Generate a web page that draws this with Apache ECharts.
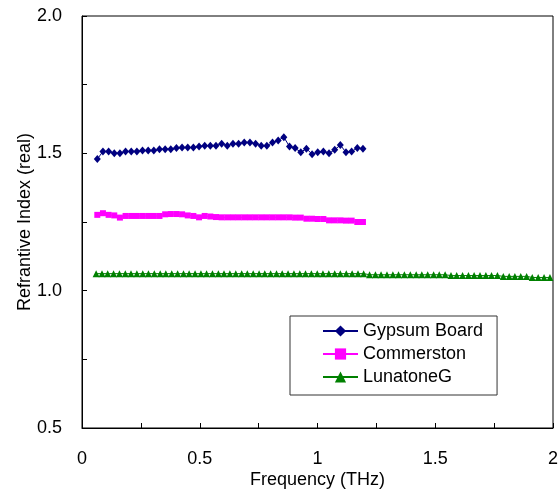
<!DOCTYPE html>
<html>
<head>
<meta charset="utf-8">
<script src="https://cdn.jsdelivr.net/npm/echarts@6/dist/echarts.min.js"></script>
<style>html,body{margin:0;padding:0;background:#fff;}#c{width:558px;height:491px;}</style>
</head>
<body>
<div id="c"></div>
<script>
var freqA = [0.065,0.089,0.113,0.137,0.161,0.185,0.209,0.233,0.257,0.281,0.305,0.329,0.353,0.377,0.401,0.425,0.449,0.473,0.497,0.521,0.545,0.569,0.593,0.617,0.641,0.665,0.689,0.713,0.737,0.761,0.785,0.809,0.833,0.857,0.881,0.905,0.929,0.953,0.977,1.001,1.025,1.049,1.073,1.097,1.121,1.145,1.169,1.193];
var gypsum = [1.479,1.507,1.507,1.500,1.500,1.507,1.507,1.507,1.510,1.510,1.510,1.515,1.515,1.515,1.519,1.521,1.521,1.521,1.525,1.528,1.528,1.528,1.535,1.528,1.535,1.535,1.539,1.539,1.535,1.528,1.528,1.539,1.547,1.559,1.525,1.519,1.504,1.517,1.497,1.504,1.507,1.500,1.513,1.530,1.504,1.507,1.519,1.517];
var commerston = [1.276,1.282,1.276,1.274,1.266,1.272,1.272,1.272,1.272,1.272,1.272,1.272,1.278,1.279,1.279,1.278,1.274,1.272,1.267,1.272,1.270,1.268,1.267,1.267,1.267,1.267,1.267,1.267,1.267,1.267,1.267,1.267,1.267,1.267,1.267,1.266,1.266,1.262,1.262,1.261,1.261,1.256,1.256,1.256,1.255,1.255,1.250,1.250];
var freqG = [0.060,0.085,0.109,0.134,0.159,0.184,0.208,0.233,0.258,0.282,0.307,0.332,0.356,0.381,0.406,0.431,0.455,0.480,0.505,0.529,0.554,0.579,0.603,0.628,0.653,0.678,0.702,0.727,0.752,0.776,0.801,0.826,0.850,0.875,0.900,0.925,0.949,0.974,0.999,1.023,1.048,1.073,1.097,1.122,1.147,1.172,1.196,1.221,1.246,1.270,1.295,1.320,1.344,1.369,1.394,1.419,1.443,1.468,1.493,1.517,1.542,1.567,1.591,1.616,1.641,1.665,1.690,1.715,1.739,1.764,1.789,1.814,1.838,1.863,1.888,1.912,1.937,1.962,1.987];
var lunatone = [1.062,1.062,1.062,1.062,1.062,1.062,1.062,1.062,1.062,1.062,1.062,1.062,1.062,1.062,1.062,1.062,1.062,1.062,1.062,1.062,1.062,1.062,1.062,1.062,1.062,1.062,1.062,1.062,1.062,1.062,1.062,1.062,1.062,1.062,1.062,1.062,1.062,1.062,1.062,1.062,1.062,1.062,1.062,1.062,1.062,1.062,1.062,1.058,1.058,1.058,1.058,1.058,1.058,1.058,1.058,1.058,1.058,1.058,1.058,1.058,1.058,1.055,1.055,1.055,1.055,1.055,1.055,1.055,1.055,1.055,1.052,1.052,1.052,1.052,1.052,1.048,1.048,1.048,1.048];
var seriesNames = ['Gypsum Board','Commerston','LunatoneG'];
var xTickLabels = {'0':'0','0.5':'0.5','1':'1','1.5':'1.5','2':'2'};

function pairs(xs, ys){ return ys.map(function(v,i){ return [xs[i], v]; }); }

var font = 'Liberation Sans, Arial, sans-serif';
var chart = echarts.init(document.getElementById('c'), null, {renderer:'canvas'});
chart.setOption({
  animation: false,
  backgroundColor: '#fff',
  grid: {left: 82, right: 5, top: 16, bottom: 63, show: true, borderColor: '#000', borderWidth: 1, containLabel: false, outerBoundsMode: 'none'},
  legend: {
    orient: 'vertical', left: 290, top: 316,
    padding: [6, 14, 9, 32],
    itemWidth: 35, itemHeight: 14, itemGap: 5,
    borderColor: '#333', borderWidth: 1, borderRadius: 0,
    backgroundColor: '#fff',
    textStyle: {fontFamily: font, fontSize: 18, color: '#000'},
    data: seriesNames
  },
  xAxis: {
    type: 'value', min: 0, max: 2, interval: 0.5,
    name: 'Frequency (THz)', nameLocation: 'middle', nameGap: 43, nameMoveOverlap: false,
    nameTextStyle: {fontFamily: font, fontSize: 18, color: '#000'},
    axisLine: {show: true, lineStyle: {color: '#000', width: 1}},
    axisTick: {show: true, inside: true, length: 5, lineStyle: {color: '#000'}},
    minorTick: {show: true, splitNumber: 2, length: 5, lineStyle: {color: '#000'}},
    splitLine: {show: false},
    axisLabel: {fontFamily: font, fontSize: 18, color: '#000', margin: 22,
      formatter: function(v){ var k = String(v); return xTickLabels[k] !== undefined ? xTickLabels[k] : k; }}
  },
  yAxis: {
    type: 'value', min: 0.5, max: 2.0, interval: 0.5,
    name: 'Refrantive Index (real)', nameLocation: 'middle', nameGap: 48, nameMoveOverlap: false,
    nameTextStyle: {fontFamily: font, fontSize: 18, color: '#000'},
    axisLine: {show: true, lineStyle: {color: '#000', width: 1}},
    axisTick: {show: true, inside: true, length: 5, lineStyle: {color: '#000'}},
    minorTick: {show: true, splitNumber: 2, length: 5, lineStyle: {color: '#000'}},
    splitLine: {show: false},
    axisLabel: {fontFamily: font, fontSize: 18, color: '#000', margin: 20,
      formatter: function(v){ return v.toFixed(1); }}
  },
  series: [
    {name: seriesNames[0], type: 'line', data: pairs(freqA, gypsum),
     symbol: 'diamond', symbolSize: [7, 8], showAllSymbol: true,
     itemStyle: {color: '#000080'}, lineStyle: {color: '#000080', width: 1}},
    {name: seriesNames[1], type: 'line', data: pairs(freqA, commerston),
     symbol: 'rect', symbolSize: 6, showAllSymbol: true,
     itemStyle: {color: '#FF00FF'}, lineStyle: {color: '#FF00FF', width: 1}},
    {name: seriesNames[2], type: 'line', data: pairs(freqG, lunatone),
     symbol: 'triangle', symbolSize: 7, showAllSymbol: true,
     itemStyle: {color: '#008000'}, lineStyle: {color: '#008000', width: 1}}
  ]
});
</script>
</body>
</html>
